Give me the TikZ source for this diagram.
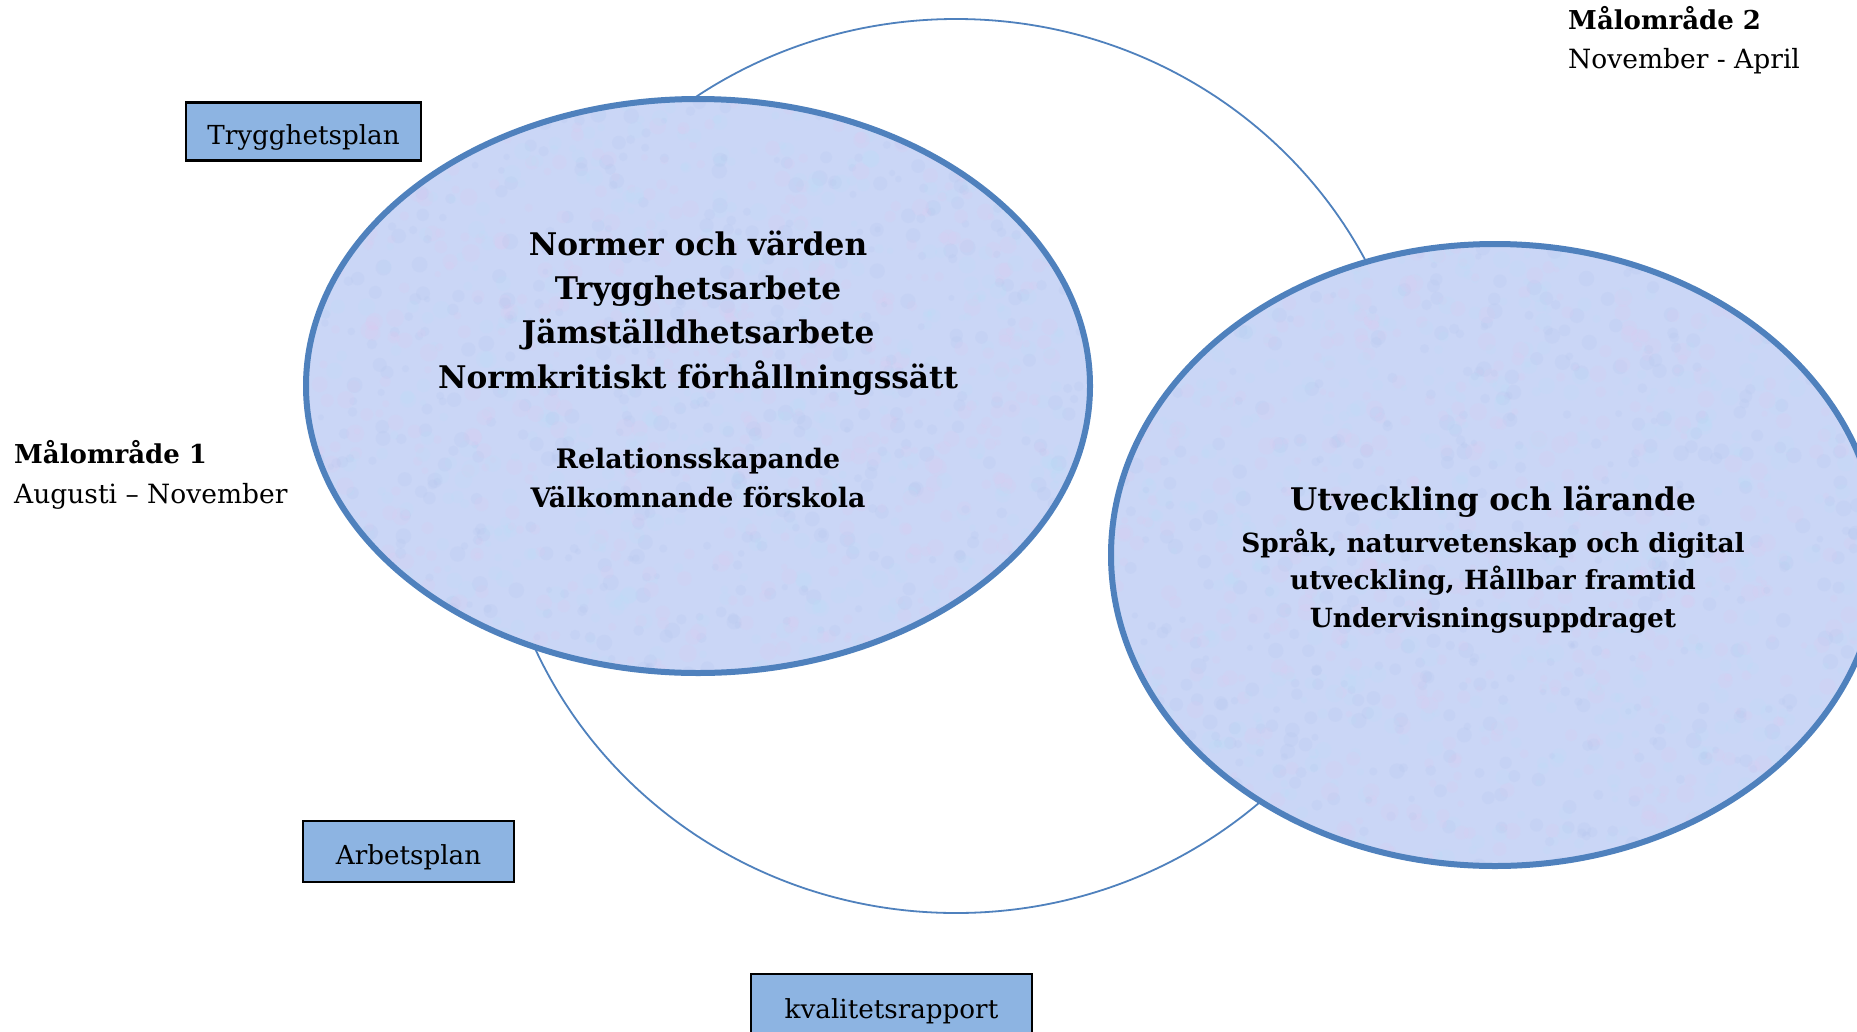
\documentclass[tikz,border=0pt]{standalone}
\usepackage{fontspec}
\setmainfont{DejaVu Serif}
\definecolor{ringblue}{RGB}{79,129,189}
\definecolor{boxblue}{RGB}{141,180,226}
\definecolor{bubblefill}{RGB}{202,214,246}
\definecolor{mottlepink}{RGB}{226,200,238}
\definecolor{mottlecyan}{RGB}{184,226,250}
\definecolor{mottleblue}{RGB}{176,194,236}
\begin{document}
\begin{tikzpicture}[x=1pt,y=-1pt,
  ring/.style={draw=ringblue, line width=1.8pt},
  bubble/.style={draw=ringblue, line width=6pt},
  bubblebg/.style={fill=bubblefill},
  blot/.style={opacity=0.16},
  planbox/.style={draw=black, line width=2.2pt, fill=boxblue, inner sep=0pt,
    text height=25pt, text depth=0pt, font=\fontsize{26.2}{30}\selectfont},
  big/.style={anchor=base, inner sep=0pt, font=\bfseries\fontsize{31.2}{36}\selectfont},
  small/.style={anchor=base, inner sep=0pt, font=\bfseries\fontsize{26.8}{30}\selectfont},
  smalltwo/.style={anchor=base, inner sep=0pt, font=\bfseries\fontsize{26.4}{30}\selectfont},
  sidehead/.style={anchor=base west, inner sep=0pt, font=\bfseries\fontsize{26}{30}\selectfont},
  sidetext/.style={anchor=base west, inner sep=0pt, font=\fontsize{26.5}{30}\selectfont},
]
\useasboundingbox (0,0) rectangle (1857,1031);
\clip (0,0) rectangle (1857,1031);
\fill[white] (0,0) rectangle (1857,1031);
\pgfmathsetseed{7}

% cycle ring
\draw[ring] (956,466) ellipse [x radius=461, y radius=447];

% target area 1 with mottled fill
\fill[bubblebg] (698,386) ellipse [x radius=392, y radius=287];
\begin{scope}
  \clip (698,386) ellipse [x radius=392, y radius=287];
  \foreach \i in {1,...,550}{
    \fill[mottlepink, blot] ({306+784*rnd},{99+574*rnd}) circle ({3+6*rnd});
    \fill[mottlecyan, blot] ({306+784*rnd},{99+574*rnd}) circle ({3+6*rnd});
    \fill[mottleblue, blot] ({306+784*rnd},{99+574*rnd}) circle ({3+5*rnd});
  }
\end{scope}
\draw[bubble] (698,386) ellipse [x radius=392, y radius=287];

% target area 2 with mottled fill
\fill[bubblebg] (1495,555) ellipse [x radius=384, y radius=311];
\begin{scope}
  \clip (1495,555) ellipse [x radius=384, y radius=311];
  \foreach \i in {1,...,550}{
    \fill[mottlepink, blot] ({1111+768*rnd},{244+622*rnd}) circle ({3+6*rnd});
    \fill[mottlecyan, blot] ({1111+768*rnd},{244+622*rnd}) circle ({3+6*rnd});
    \fill[mottleblue, blot] ({1111+768*rnd},{244+622*rnd}) circle ({3+5*rnd});
  }
\end{scope}
\draw[bubble] (1495,555) ellipse [x radius=384, y radius=311];

% texts of area 1
\node[big] (a1) at (698,255) {Normer och värden};
\node[big] (a2) at (698,299) {Trygghetsarbete};
\node[big] (a3) at (698,343) {Jämställdhetsarbete};
\node[big] (a4) at (698,388) {Normkritiskt förhållningssätt};
\node[small] (a5) at (698,468) {Relationsskapande};
\node[small] (a6) at (698,507) {Välkomnande förskola};

% texts of area 2
\node[big] (b1) at (1493,510) {Utveckling och lärande};
\node[smalltwo] (b2) at (1493,552) {Språk, naturvetenskap och digital};
\node[smalltwo] (b3) at (1493,589) {utveckling, Hållbar framtid};
\node[smalltwo] (b4) at (1493,627) {Undervisningsuppdraget};

% side labels
\node[sidehead] (m1) at (14,463) {Målområde 1};
\node[sidetext] (m1t) at (14,503) {Augusti – November};
\node[sidehead] (m2) at (1568,29) {Målområde 2};
\node[sidetext] (m2t) at (1568,68) {November - April};

% plan boxes
\node[planbox, minimum width=235pt, minimum height=58pt] (tp) at (303.5,131.5) {Trygghetsplan};
\node[planbox, minimum width=211pt, minimum height=61pt] (ap) at (408.5,851.5) {Arbetsplan};
\node[planbox, minimum width=281pt, minimum height=63pt] (kr) at (891.5,1005.5) {kvalitetsrapport};
\end{tikzpicture}
\end{document}
